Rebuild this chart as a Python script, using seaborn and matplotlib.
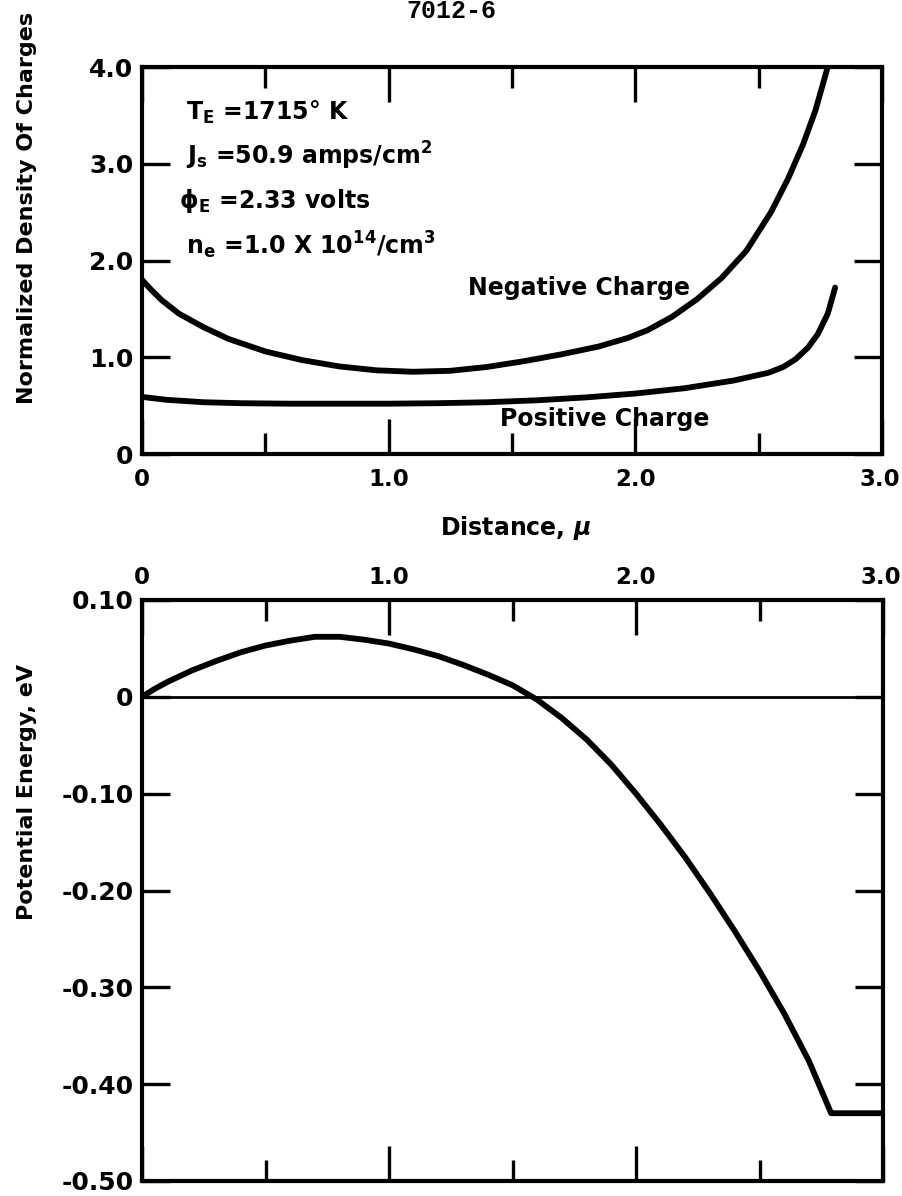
import matplotlib
matplotlib.use("Agg")
import matplotlib.pyplot as plt
import seaborn as sns
from matplotlib.ticker import FixedLocator

sns.set_theme(style="white")
plt.rcParams['font.family'] = ['DejaVu Sans']
plt.rcParams['font.weight'] = 'bold'
plt.rcParams['text.color'] = 'black'
plt.rcParams['axes.labelcolor'] = 'black'
plt.rcParams['xtick.color'] = 'black'
plt.rcParams['ytick.color'] = 'black'
plt.rcParams['mathtext.fontset'] = 'dejavusans'
plt.rcParams['mathtext.default'] = 'bf'

# ---- data: upper panel (normalized density of charges) ----
neg_x = [0.0, 0.04, 0.08, 0.15, 0.25, 0.35, 0.5, 0.65, 0.8, 0.95, 1.1, 1.25, 1.4, 1.55, 1.7,
         1.85, 1.97, 2.05, 2.15, 2.25, 2.35, 2.45, 2.55, 2.62, 2.68, 2.73, 2.78]
neg_y = [1.8, 1.69, 1.59, 1.45, 1.31, 1.19, 1.06, 0.97, 0.905, 0.865, 0.85, 0.86, 0.9, 0.96, 1.03,
         1.11, 1.2, 1.28, 1.42, 1.6, 1.82, 2.1, 2.5, 2.85, 3.2, 3.55, 4.0]
pos_x = [0.0, 0.1, 0.25, 0.4, 0.6, 0.8, 1.0, 1.2, 1.4, 1.6, 1.8, 2.0, 2.2, 2.4, 2.54, 2.6,
         2.65, 2.7, 2.74, 2.78, 2.81]
pos_y = [0.59, 0.56, 0.535, 0.525, 0.52, 0.52, 0.52, 0.525, 0.535, 0.555, 0.585, 0.625, 0.68,
         0.76, 0.84, 0.9, 0.98, 1.1, 1.24, 1.45, 1.72]

# ---- data: lower panel (potential energy) ----
pot_x = [0.0, 0.05, 0.1, 0.2, 0.3, 0.4, 0.5, 0.6, 0.7, 0.8, 0.9, 1.0, 1.1, 1.2, 1.3, 1.4, 1.5,
         1.6, 1.7, 1.8, 1.9, 2.0, 2.1, 2.2, 2.3, 2.4, 2.5, 2.6, 2.7, 2.79, 3.0]
pot_y = [0.0, 0.008, 0.015, 0.027, 0.037, 0.046, 0.053, 0.058, 0.062, 0.062, 0.059, 0.055,
         0.049, 0.042, 0.033, 0.023, 0.012, -0.003, -0.022, -0.044, -0.07, -0.10, -0.132,
         -0.166, -0.203, -0.242, -0.283, -0.327, -0.376, -0.43, -0.43]

x_major = [0.0, 1.0, 2.0, 3.0]
x_minor = [0.5, 1.5, 2.5]
x_labels = ["0", "1.0", "2.0", "3.0"]
top_y_ticks = [0, 1, 2, 3, 4]
top_y_labels = ["0", "1.0", "2.0", "3.0", "4.0"]
bot_y_ticks = [0.10, 0.0, -0.10, -0.20, -0.30, -0.40, -0.50]
bot_y_labels = ["0.10", "0", "-0.10", "-0.20", "-0.30", "-0.40", "-0.50"]

W, H = 902, 1196
fig = plt.figure(figsize=(W / 100, H / 100), dpi=100)
fig.patch.set_facecolor("white")
ax1 = fig.add_axes([142 / W, 1 - 454 / H, 740 / W, 387 / H])
ax2 = fig.add_axes([142 / W, 1 - 1181 / H, 741 / W, 581 / H])

LW = 4.2
sns.lineplot(x=neg_x, y=neg_y, ax=ax1, color="black", lw=LW, sort=False, estimator=None)
sns.lineplot(x=pos_x, y=pos_y, ax=ax1, color="black", lw=LW, sort=False, estimator=None)
sns.lineplot(x=pot_x, y=pot_y, ax=ax2, color="black", lw=LW, sort=False, estimator=None)
ax2.axhline(0, color="black", lw=2)

for ax in (ax1, ax2):
    ax.set_facecolor("white")
    for s in ax.spines.values():
        s.set_visible(True)
        s.set_color("black")
        s.set_linewidth(3)
    ax.set_xlim(0, 3)
    ax.xaxis.set_major_locator(FixedLocator(x_major))
    ax.xaxis.set_minor_locator(FixedLocator(x_minor))
    ax.tick_params(axis="x", which="major", direction="in", length=25, width=2.4,
                   top=True, bottom=True, labelsize=16.5, color="black", labelcolor="black")
    ax.tick_params(axis="x", which="minor", direction="in", length=15, width=2.4,
                   top=True, bottom=True, color="black")
    ax.tick_params(axis="y", which="major", direction="in", length=20, width=2.4,
                   left=True, right=True, labelsize=18, pad=6, color="black", labelcolor="black")
    ax.grid(False)
    ax.set_xlabel("")
    ax.set_ylabel("")

ax1.set_ylim(0, 4)
ax1.set_yticks(top_y_ticks)
ax1.set_yticklabels(top_y_labels, fontweight="bold")
ax1.set_xticks(x_major)
ax1.set_xticklabels(x_labels, fontweight="bold")
ax1.tick_params(axis="x", labelbottom=True, labeltop=False, pad=10)

ax2.set_ylim(-0.5, 0.1)
ax2.set_yticks(bot_y_ticks)
ax2.set_yticklabels(bot_y_labels, fontweight="bold")
ax2.set_xticks(x_major)
ax2.set_xticklabels(x_labels, fontweight="bold")
ax2.tick_params(axis="x", labelbottom=False, labeltop=True, pad=8)

# keep the right-most "3.0" labels inside the canvas
for ax in (ax1, ax2):
    labs = ax.get_xticklabels()
    labs[-1].set_horizontalalignment("right")
    labs[-1].set_x(3.0)
    import matplotlib.transforms as mtransforms
    offset = mtransforms.ScaledTranslation(18 / 100, 0, fig.dpi_scale_trans)
    labs[-1].set_transform(labs[-1].get_transform() + offset)

# annotations
tx = 0.18
fs = 17
ax1.text(tx, 3.53, r"T$_\mathbf{E}$ =1715° K", fontsize=fs, fontweight="bold", va="center")
ax1.text(tx, 3.08, r"J$_\mathbf{s}$ =50.9 amps/cm$^\mathbf{2}$", fontsize=fs, fontweight="bold", va="center")
ax1.text(tx - 0.03, 2.62, r"ϕ$_\mathbf{E}$ =2.33 volts", fontsize=fs, fontweight="bold", va="center")
ax1.text(tx, 2.16, r"n$_\mathbf{e}$ =1.0 X 10$^\mathbf{14}$/cm$^\mathbf{3}$", fontsize=fs, fontweight="bold", va="center")
ax1.text(1.32, 1.72, "Negative Charge", fontsize=fs, fontweight="bold", va="center")
ax1.text(1.45, 0.36, "Positive Charge", fontsize=fs, fontweight="bold", va="center")

fig.text(451 / W, 1 - 18 / H, "7012-6", fontsize=18, family="Liberation Mono", ha="center", va="baseline")
fig.text(27 / W, 1 - 12 / H, "Normalized Density Of Charges", rotation=90, fontsize=16,
         fontweight="bold", ha="center", va="top")
fig.text(27 / W, 1 - 792 / H, "Potential Energy, eV", rotation=90, fontsize=16,
         fontweight="bold", ha="center", va="center")
fig.text(515 / W, 1 - 528 / H, r"Distance, $\mathit{\mu}$", fontsize=17, fontweight="bold",
         ha="center", va="center")

fig.savefig("out.png", dpi=100, facecolor="white")
